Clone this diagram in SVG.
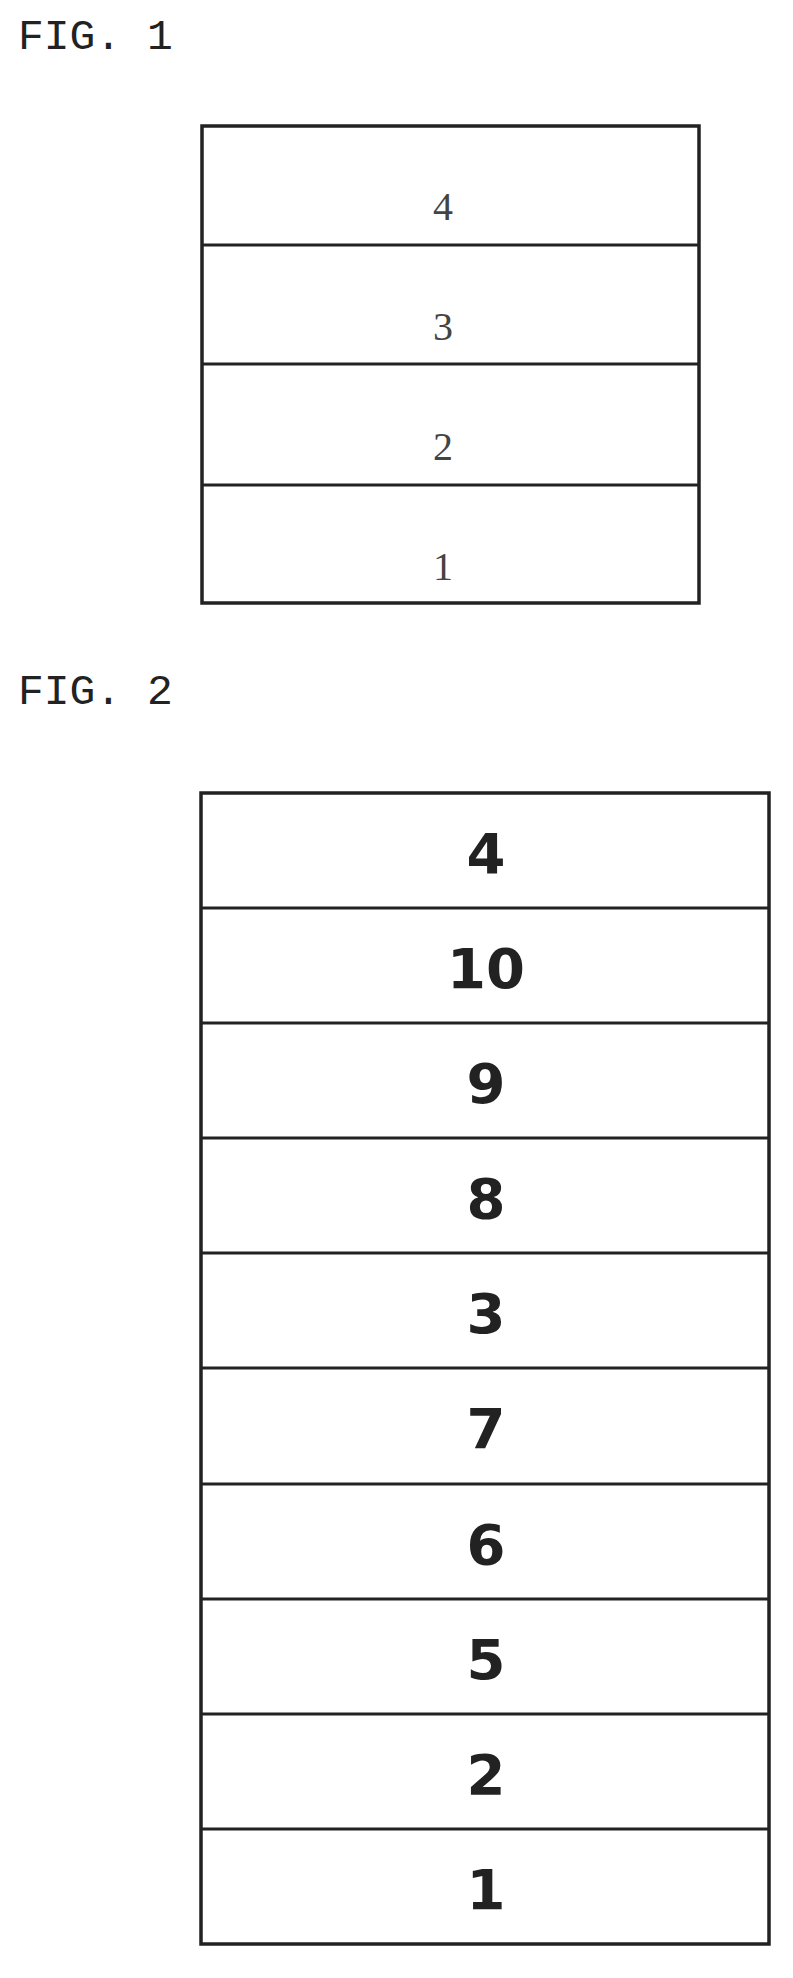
<svg xmlns="http://www.w3.org/2000/svg" width="793" height="1978" viewBox="0 0 793 1978">
<style>
.t{font-family:"Liberation Mono",monospace;font-size:43px;fill:#222}
.b{fill:#fff;stroke:#222;stroke-width:3.5}
.l{stroke:#222;stroke-width:3}
.n1{font-family:"Liberation Serif",serif;font-size:40px;fill:#444;text-anchor:middle}
.n2{font-family:"DejaVu Sans",sans-serif;font-weight:bold;font-size:56px;fill:#222;text-anchor:middle;dominant-baseline:central}
</style>
<rect width="793" height="1978" fill="#fff"/>
<text class="t" x="18" y="49">FIG. 1</text>
<text class="t" x="18" y="704">FIG. 2</text>
<g id="fig1">
<rect class="b" x="202" y="126" width="497" height="477"/>
<line class="l" x1="202" y1="245" x2="699" y2="245"/>
<line class="l" x1="202" y1="364" x2="699" y2="364"/>
<line class="l" x1="202" y1="485" x2="699" y2="485"/>
<text class="n1" x="443" y="220">4</text>
<text class="n1" x="443" y="340">3</text>
<text class="n1" x="443" y="460">2</text>
<text class="n1" x="443" y="580">1</text>
</g>
<g id="fig2">
<rect class="b" x="201" y="793" width="568" height="1151"/>
<g class="l">
<line x1="201" y1="908" x2="769" y2="908"/>
<line x1="201" y1="1023" x2="769" y2="1023"/>
<line x1="201" y1="1138" x2="769" y2="1138"/>
<line x1="201" y1="1253" x2="769" y2="1253"/>
<line x1="201" y1="1368" x2="769" y2="1368"/>
<line x1="201" y1="1484" x2="769" y2="1484"/>
<line x1="201" y1="1599" x2="769" y2="1599"/>
<line x1="201" y1="1714" x2="769" y2="1714"/>
<line x1="201" y1="1829" x2="769" y2="1829"/>
</g>
<text class="n2" x="486" y="853">4</text>
<text class="n2" x="486" y="968">10</text>
<text class="n2" x="486" y="1083">9</text>
<text class="n2" x="486" y="1198">8</text>
<text class="n2" x="486" y="1313">3</text>
<text class="n2" x="486" y="1428">7</text>
<text class="n2" x="486" y="1544">6</text>
<text class="n2" x="486" y="1659">5</text>
<text class="n2" x="486" y="1774">2</text>
<text class="n2" x="486" y="1889">1</text>
</g>
</svg>
